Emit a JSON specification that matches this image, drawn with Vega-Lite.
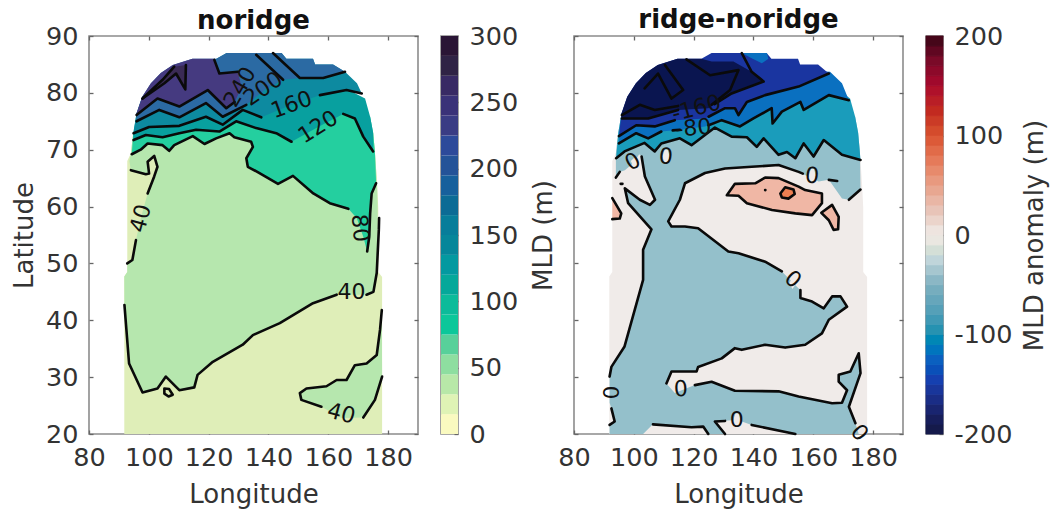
{"$schema":"https://vega.github.io/schema/vega-lite/v6.json","autosize":{"type":"none"},"padding":{"left":89,"top":36,"right":965,"bottom":78},"background":"white",
"config":{"view":{"stroke":"#8c8c8c","strokeWidth":1.6},"font":"DejaVu Sans","axis":{"grid":false,"domain":false,"tickColor":"#666666","tickSize":-4,"tickWidth":1.3,"labelFont":"DejaVu Sans","labelFontSize":25.5,"labelColor":"#333333","titleFont":"DejaVu Sans","titleFontSize":26,"titleFontWeight":"normal","titleColor":"#333333","labelOverlap":false,"labelFlush":false,"labelBound":false},"title":{"font":"DejaVu Sans","fontSize":26,"fontWeight":"bold","color":"#111111","anchor":"middle"}},
"datasets":{
"fillL":[
{"z":"a","v":0,"lon":91.8,"lat":20},{"z":"a","v":0,"lon":91.8,"lat":47.7},{"z":"a","v":0,"lon":92.8,"lat":48.5},{"z":"a","v":0,"lon":92.8,"lat":68},{"z":"a","v":0,"lon":94,"lat":69.4},{"z":"a","v":0,"lon":94.8,"lat":73},{"z":"a","v":0,"lon":175,"lat":73},{"z":"a","v":0,"lon":175.6,"lat":69.6},{"z":"a","v":0,"lon":176.3,"lat":64.1},{"z":"a","v":0,"lon":176.7,"lat":59.9},{"z":"a","v":0,"lon":176.7,"lat":48.5},{"z":"a","v":0,"lon":178,"lat":47.6},{"z":"a","v":0,"lon":178,"lat":20},
{"z":"b","v":40,"lon":91.85,"lat":42.7},{"z":"b","v":40,"lon":93.4,"lat":32.4},{"z":"b","v":40,"lon":97.9,"lat":27.3},{"z":"b","v":40,"lon":102.9,"lat":28},{"z":"b","v":40,"lon":105.7,"lat":30.1},{"z":"b","v":40,"lon":109.1,"lat":28.3},{"z":"b","v":40,"lon":110.2,"lat":27.7},{"z":"b","v":40,"lon":115.2,"lat":28.2},{"z":"b","v":40,"lon":116.3,"lat":30.4},{"z":"b","v":40,"lon":121.4,"lat":32.7},{"z":"b","v":40,"lon":131.4,"lat":35.7},{"z":"b","v":40,"lon":134.8,"lat":37.4},{"z":"b","v":40,"lon":143.8,"lat":39.5},{"z":"b","v":40,"lon":154.9,"lat":43},{"z":"b","v":40,"lon":162.8,"lat":44.5},{"z":"b","v":40,"lon":172.8,"lat":44.5},{"z":"b","v":40,"lon":175.1,"lat":45},{"z":"b","v":40,"lon":176.2,"lat":48.3},{"z":"b","v":40,"lon":176.5,"lat":55.9},{"z":"b","v":40,"lon":176.5,"lat":59.9},{"z":"b","v":40,"lon":176.3,"lat":64.1},{"z":"b","v":40,"lon":175.6,"lat":69.6},{"z":"b","v":40,"lon":175,"lat":73},{"z":"b","v":40,"lon":94.8,"lat":73},{"z":"b","v":40,"lon":94,"lat":69.4},{"z":"b","v":40,"lon":93.5,"lat":68},{"z":"b","v":40,"lon":94,"lat":66.4},{"z":"b","v":40,"lon":99,"lat":65.7},{"z":"b","v":40,"lon":100.1,"lat":65.8},{"z":"b","v":40,"lon":99.6,"lat":67.9},{"z":"b","v":40,"lon":101.8,"lat":68.9},{"z":"b","v":40,"lon":102.9,"lat":67},{"z":"b","v":40,"lon":101.8,"lat":65.3},{"z":"b","v":40,"lon":99.6,"lat":62.3},{"z":"b","v":40,"lon":97.3,"lat":57.9},{"z":"b","v":40,"lon":95.7,"lat":54.1},{"z":"b","v":40,"lon":94.5,"lat":50.6},{"z":"b","v":40,"lon":92.8,"lat":50},{"z":"b","v":40,"lon":92.8,"lat":48.5},{"z":"b","v":40,"lon":91.8,"lat":47.7},
{"z":"c","v":40,"lon":177.9,"lat":41.8},{"z":"c","v":40,"lon":177.3,"lat":38.3},{"z":"c","v":40,"lon":176.2,"lat":33.9},{"z":"c","v":40,"lon":172.8,"lat":32.4},{"z":"c","v":40,"lon":168.9,"lat":32.1},{"z":"c","v":40,"lon":166.1,"lat":29.5},{"z":"c","v":40,"lon":162.8,"lat":29.5},{"z":"c","v":40,"lon":159.4,"lat":28.4},{"z":"c","v":40,"lon":152.7,"lat":28},{"z":"c","v":40,"lon":150.5,"lat":27.2},{"z":"c","v":40,"lon":151,"lat":26},{"z":"c","v":40,"lon":157.7,"lat":24.8},{"z":"c","v":40,"lon":164.4,"lat":22.8},{"z":"c","v":40,"lon":171.7,"lat":22.9},{"z":"c","v":40,"lon":175.6,"lat":26},{"z":"c","v":40,"lon":178,"lat":30.1},
{"z":"d","v":80,"lon":94.3,"lat":69.2},{"z":"d","v":80,"lon":97.3,"lat":70},{"z":"d","v":80,"lon":99.6,"lat":71.1},{"z":"d","v":80,"lon":104.6,"lat":70.8},{"z":"d","v":80,"lon":106.8,"lat":69.8},{"z":"d","v":80,"lon":108.5,"lat":70.8},{"z":"d","v":80,"lon":114.7,"lat":72.4},{"z":"d","v":80,"lon":118.6,"lat":71},{"z":"d","v":80,"lon":122.5,"lat":72},{"z":"d","v":80,"lon":127,"lat":72.9},{"z":"d","v":80,"lon":128.6,"lat":72.2},{"z":"d","v":80,"lon":134.2,"lat":71.4},{"z":"d","v":80,"lon":134.8,"lat":70.5},{"z":"d","v":80,"lon":132.6,"lat":68.5},{"z":"d","v":80,"lon":133.1,"lat":67},{"z":"d","v":80,"lon":137,"lat":65.9},{"z":"d","v":80,"lon":143.2,"lat":64},{"z":"d","v":80,"lon":148.2,"lat":65.4},{"z":"d","v":80,"lon":155,"lat":62.3},{"z":"d","v":80,"lon":160.5,"lat":60.6},{"z":"d","v":80,"lon":166.7,"lat":59.6},{"z":"d","v":80,"lon":169.5,"lat":58},{"z":"d","v":80,"lon":171.7,"lat":54.7},{"z":"d","v":80,"lon":173,"lat":52.1},{"z":"d","v":80,"lon":173.7,"lat":54.7},{"z":"d","v":80,"lon":174,"lat":58.8},{"z":"d","v":80,"lon":174.5,"lat":62.3},{"z":"d","v":80,"lon":176,"lat":64.1},{"z":"d","v":80,"lon":175.6,"lat":69.6},{"z":"d","v":80,"lon":175,"lat":73},{"z":"d","v":80,"lon":174,"lat":75.8},{"z":"d","v":80,"lon":165,"lat":78},{"z":"d","v":80,"lon":130,"lat":78},{"z":"d","v":80,"lon":100,"lat":76},{"z":"d","v":80,"lon":94.8,"lat":73},
{"z":"e","v":120,"lon":94.9,"lat":71.7},{"z":"e","v":120,"lon":99,"lat":72.6},{"z":"e","v":120,"lon":104.6,"lat":72.2},{"z":"e","v":120,"lon":110.2,"lat":72.9},{"z":"e","v":120,"lon":115.8,"lat":73.5},{"z":"e","v":120,"lon":123.6,"lat":73.2},{"z":"e","v":120,"lon":129.2,"lat":75},{"z":"e","v":120,"lon":135.9,"lat":73.8},{"z":"e","v":120,"lon":142.6,"lat":72.9},{"z":"e","v":120,"lon":147.7,"lat":71.4},{"z":"e","v":120,"lon":156.6,"lat":74},{"z":"e","v":120,"lon":165,"lat":76.3},{"z":"e","v":120,"lon":168.9,"lat":75.5},{"z":"e","v":120,"lon":171.7,"lat":72.3},{"z":"e","v":120,"lon":175,"lat":69.7},{"z":"e","v":120,"lon":175,"lat":73},{"z":"e","v":120,"lon":174,"lat":75.8},{"z":"e","v":120,"lon":172.3,"lat":79},{"z":"e","v":120,"lon":165,"lat":81},{"z":"e","v":120,"lon":130,"lat":81},{"z":"e","v":120,"lon":100.7,"lat":78},{"z":"e","v":120,"lon":95.9,"lat":76.4},{"z":"e","v":120,"lon":94.8,"lat":73},
{"z":"f","v":160,"lon":94.9,"lat":72.9},{"z":"f","v":160,"lon":100.1,"lat":74},{"z":"f","v":160,"lon":110.2,"lat":74.2},{"z":"f","v":160,"lon":119.1,"lat":75.8},{"z":"f","v":160,"lon":124.7,"lat":74.4},{"z":"f","v":160,"lon":131.4,"lat":77},{"z":"f","v":160,"lon":137.6,"lat":75.7},{"z":"f","v":160,"lon":147.7,"lat":77.9},{"z":"f","v":160,"lon":157.2,"lat":79.6},{"z":"f","v":160,"lon":166.1,"lat":80.5},{"z":"f","v":160,"lon":171.2,"lat":79.9},{"z":"f","v":160,"lon":169.6,"lat":81.7},{"z":"f","v":160,"lon":165.6,"lat":83.7},{"z":"f","v":160,"lon":161.6,"lat":85},{"z":"f","v":160,"lon":155.6,"lat":85},{"z":"f","v":160,"lon":154.9,"lat":86},{"z":"f","v":160,"lon":146,"lat":86},{"z":"f","v":160,"lon":144.4,"lat":87},{"z":"f","v":160,"lon":126,"lat":87},{"z":"f","v":160,"lon":122.6,"lat":86},{"z":"f","v":160,"lon":104,"lat":83},{"z":"f","v":160,"lon":97.8,"lat":79.3},{"z":"f","v":160,"lon":95.9,"lat":76.4},
{"z":"g","v":200,"lon":95.9,"lat":75},{"z":"g","v":200,"lon":103.5,"lat":77},{"z":"g","v":200,"lon":110.2,"lat":75.7},{"z":"g","v":200,"lon":119.1,"lat":78.2},{"z":"g","v":200,"lon":124.7,"lat":75.8},{"z":"g","v":200,"lon":132.6,"lat":77.9},{"z":"g","v":200,"lon":138.7,"lat":80.5},{"z":"g","v":200,"lon":144.9,"lat":82.3},{"z":"g","v":200,"lon":150.5,"lat":82.6},{"z":"g","v":200,"lon":158.3,"lat":82.6},{"z":"g","v":200,"lon":165.6,"lat":83.7},{"z":"g","v":200,"lon":161.6,"lat":85},{"z":"g","v":200,"lon":155.6,"lat":85},{"z":"g","v":200,"lon":154.9,"lat":86},{"z":"g","v":200,"lon":146,"lat":86},{"z":"g","v":200,"lon":144.4,"lat":87},{"z":"g","v":200,"lon":126,"lat":87},{"z":"g","v":200,"lon":122.6,"lat":86},{"z":"g","v":200,"lon":114.6,"lat":86},{"z":"g","v":200,"lon":108,"lat":84.9},{"z":"g","v":200,"lon":104,"lat":83.5},{"z":"g","v":200,"lon":100.7,"lat":81.7},{"z":"g","v":200,"lon":97.8,"lat":79.3},{"z":"g","v":200,"lon":95.9,"lat":76.4},
{"z":"h","v":240,"lon":95.9,"lat":76.1},{"z":"h","v":240,"lon":102.9,"lat":79},{"z":"h","v":240,"lon":110.2,"lat":77.6},{"z":"h","v":240,"lon":119.7,"lat":80.5},{"z":"h","v":240,"lon":125.9,"lat":77.3},{"z":"h","v":240,"lon":128.7,"lat":78.4},{"z":"h","v":240,"lon":131,"lat":81},{"z":"h","v":240,"lon":129.8,"lat":83.7},{"z":"h","v":240,"lon":123.6,"lat":83.4},{"z":"h","v":240,"lon":121.9,"lat":85.8},{"z":"h","v":240,"lon":122,"lat":86},{"z":"h","v":240,"lon":114.6,"lat":86},{"z":"h","v":240,"lon":108,"lat":84.9},{"z":"h","v":240,"lon":104,"lat":83.5},{"z":"h","v":240,"lon":100.7,"lat":81.7},{"z":"h","v":240,"lon":97.8,"lat":79.3},{"z":"h","v":240,"lon":95.9,"lat":76.4},
{"z":"i","v":280,"lon":97.9,"lat":79},{"z":"i","v":280,"lon":104.6,"lat":82.3},{"z":"i","v":280,"lon":108.5,"lat":84.6},{"z":"i","v":280,"lon":112.4,"lat":84.9},{"z":"i","v":280,"lon":112.2,"lat":80.6},{"z":"i","v":280,"lon":109.1,"lat":83.4},{"z":"i","v":280,"lon":105.2,"lat":81.7}
],
"lineL":[
{"s":"a","lon":91.85,"lat":42.7},{"s":"a","lon":93.4,"lat":32.4},{"s":"a","lon":97.9,"lat":27.3},{"s":"a","lon":102.9,"lat":28},{"s":"a","lon":105.7,"lat":30.1},{"s":"a","lon":109.1,"lat":28.3},{"s":"a","lon":110.2,"lat":27.7},{"s":"a","lon":115.2,"lat":28.2},{"s":"a","lon":116.3,"lat":30.4},{"s":"a","lon":121.4,"lat":32.7},{"s":"a","lon":131.4,"lat":35.7},{"s":"a","lon":134.8,"lat":37.4},{"s":"a","lon":143.8,"lat":39.5},{"s":"a","lon":154.9,"lat":43},{"s":"a","lon":162.8,"lat":44.5},
{"s":"b","lon":172.8,"lat":44.5},{"s":"b","lon":175.1,"lat":45},{"s":"b","lon":176.2,"lat":48.3},{"s":"b","lon":176.9,"lat":55.9},{"s":"b","lon":177,"lat":58},
{"s":"c","lon":94,"lat":66.4},{"s":"c","lon":99,"lat":65.7},{"s":"c","lon":100.1,"lat":65.8},{"s":"c","lon":99.6,"lat":67.9},{"s":"c","lon":101.8,"lat":68.9},{"s":"c","lon":102.9,"lat":67},{"s":"c","lon":101.8,"lat":65.3},{"s":"c","lon":99.6,"lat":62.3},
{"s":"d","lon":95.7,"lat":54.1},{"s":"d","lon":94.5,"lat":50.6},{"s":"d","lon":92.8,"lat":50},
{"s":"e","lon":105.2,"lat":28},{"s":"e","lon":106.8,"lat":27.9},{"s":"e","lon":108,"lat":26.9},{"s":"e","lon":106.6,"lat":26.6},{"s":"e","lon":105.2,"lat":27.1},{"s":"e","lon":105.2,"lat":28},
{"s":"f","lon":177.9,"lat":41.8},{"s":"f","lon":177.3,"lat":38.3},{"s":"f","lon":176.2,"lat":33.9},{"s":"f","lon":172.8,"lat":32.4},{"s":"f","lon":168.9,"lat":32.1},{"s":"f","lon":166.1,"lat":29.5},{"s":"f","lon":162.8,"lat":29.5},{"s":"f","lon":159.4,"lat":28.4},{"s":"f","lon":152.7,"lat":28},{"s":"f","lon":150.5,"lat":27.2},{"s":"f","lon":151,"lat":26},{"s":"f","lon":157.7,"lat":24.8},
{"s":"g","lon":171.7,"lat":22.9},{"s":"g","lon":175.6,"lat":26},{"s":"g","lon":178,"lat":30.1},
{"s":"h","lon":94.3,"lat":69.2},{"s":"h","lon":97.3,"lat":70},{"s":"h","lon":99.6,"lat":71.1},{"s":"h","lon":104.6,"lat":70.8},{"s":"h","lon":106.8,"lat":69.8},{"s":"h","lon":108.5,"lat":70.8},{"s":"h","lon":114.7,"lat":72.4},{"s":"h","lon":118.6,"lat":71},{"s":"h","lon":122.5,"lat":72},{"s":"h","lon":127,"lat":72.9},{"s":"h","lon":128.6,"lat":72.2},{"s":"h","lon":134.2,"lat":71.4},{"s":"h","lon":134.8,"lat":70.5},{"s":"h","lon":132.6,"lat":68.5},{"s":"h","lon":133.1,"lat":67},{"s":"h","lon":137,"lat":65.9},{"s":"h","lon":143.2,"lat":64},{"s":"h","lon":148.2,"lat":65.4},{"s":"h","lon":155,"lat":62.3},{"s":"h","lon":160.5,"lat":60.6},{"s":"h","lon":166.7,"lat":59.6},
{"s":"i","lon":173,"lat":52.1},{"s":"i","lon":173.7,"lat":54.7},{"s":"i","lon":174,"lat":58.8},{"s":"i","lon":174.5,"lat":62.3},{"s":"i","lon":176,"lat":64.1},
{"s":"j","lon":94.9,"lat":71.7},{"s":"j","lon":99,"lat":72.6},{"s":"j","lon":104.6,"lat":72.2},{"s":"j","lon":110.2,"lat":72.9},{"s":"j","lon":115.8,"lat":73.5},{"s":"j","lon":123.6,"lat":73.2},{"s":"j","lon":129.2,"lat":75},{"s":"j","lon":135.9,"lat":73.8},{"s":"j","lon":142.6,"lat":72.9},{"s":"j","lon":147.7,"lat":71.4},
{"s":"k","lon":165,"lat":76.3},{"s":"k","lon":168.9,"lat":75.5},{"s":"k","lon":171.7,"lat":72.3},{"s":"k","lon":175,"lat":69.7},
{"s":"l","lon":94.9,"lat":72.9},{"s":"l","lon":100.1,"lat":74},{"s":"l","lon":110.2,"lat":74.2},{"s":"l","lon":119.1,"lat":75.8},{"s":"l","lon":124.7,"lat":74.4},{"s":"l","lon":131.4,"lat":77},{"s":"l","lon":137.6,"lat":75.7},
{"s":"m","lon":157.2,"lat":79.6},{"s":"m","lon":166.1,"lat":80.5},{"s":"m","lon":171.2,"lat":79.9},
{"s":"n","lon":95.9,"lat":75},{"s":"n","lon":103.5,"lat":77},{"s":"n","lon":110.2,"lat":75.7},{"s":"n","lon":119.1,"lat":78.2},{"s":"n","lon":124.7,"lat":75.8},{"s":"n","lon":132.6,"lat":77.9},
{"s":"o","lon":144.9,"lat":82.3},{"s":"o","lon":135.9,"lat":86.7},
{"s":"p","lon":141.5,"lat":87},{"s":"p","lon":150.5,"lat":82.6},{"s":"p","lon":158.3,"lat":82.6},{"s":"p","lon":165.6,"lat":83.7},
{"s":"q","lon":95.9,"lat":76.1},{"s":"q","lon":102.9,"lat":79},{"s":"q","lon":110.2,"lat":77.6},{"s":"q","lon":119.7,"lat":80.5},{"s":"q","lon":125.9,"lat":77.3},{"s":"q","lon":128.7,"lat":78.4},
{"s":"r","lon":129.8,"lat":83.7},{"s":"r","lon":123.6,"lat":83.4},{"s":"r","lon":121.9,"lat":85.8},
{"s":"t","lon":97.9,"lat":79},{"s":"t","lon":104.6,"lat":82.3},{"s":"t","lon":108.5,"lat":84.6},
{"s":"u","lon":112.4,"lat":84.9},{"s":"u","lon":112.2,"lat":80.6},{"s":"u","lon":109.1,"lat":83.4},{"s":"u","lon":105.2,"lat":81.7},{"s":"u","lon":97.9,"lat":79}
],
"textL":[
{"label":"40","lon":167.8,"lat":44.9,"rot":0},{"label":"40","lon":164.4,"lat":23.6,"rot":15},{"label":"40","lon":97.3,"lat":57.9,"rot":-75},{"label":"120","lon":156.6,"lat":74,"rot":-32},{"label":"160","lon":147.7,"lat":77.9,"rot":-20},{"label":"200","lon":138.2,"lat":80.7,"rot":-35},{"label":"240","lon":130.5,"lat":81,"rot":-60},{"label":"80","lon":170.6,"lat":56.2,"rot":85}
],
"fillR":[
{"z":"a","v":0,"lon":91.8,"lat":20},{"z":"a","v":0,"lon":91.8,"lat":47.7},{"z":"a","v":0,"lon":92.8,"lat":48.5},{"z":"a","v":0,"lon":92.8,"lat":68},{"z":"a","v":0,"lon":94,"lat":69.4},{"z":"a","v":0,"lon":94.8,"lat":73},{"z":"a","v":0,"lon":175,"lat":73},{"z":"a","v":0,"lon":175.6,"lat":69.6},{"z":"a","v":0,"lon":176.3,"lat":64.1},{"z":"a","v":0,"lon":176.7,"lat":59.9},{"z":"a","v":0,"lon":176.7,"lat":48.5},{"z":"a","v":0,"lon":178,"lat":47.6},{"z":"a","v":0,"lon":178,"lat":20},
{"z":"b","v":-40,"lon":91.9,"lat":20},{"z":"b","v":-40,"lon":91.9,"lat":21.6},{"z":"b","v":-40,"lon":93.6,"lat":22.2},{"z":"b","v":-40,"lon":92.5,"lat":24.5},{"z":"b","v":-40,"lon":91.9,"lat":25.5},{"z":"b","v":-40,"lon":91.9,"lat":30.1},{"z":"b","v":-40,"lon":92.5,"lat":31.8},{"z":"b","v":-40,"lon":96.9,"lat":35.4},{"z":"b","v":-40,"lon":103.1,"lat":47.1},{"z":"b","v":-40,"lon":103.1,"lat":50},{"z":"b","v":-40,"lon":103.1,"lat":52.4},{"z":"b","v":-40,"lon":105.9,"lat":56},{"z":"b","v":-40,"lon":98.1,"lat":60.6},{"z":"b","v":-40,"lon":97,"lat":63.2},{"z":"b","v":-40,"lon":102,"lat":61.2},{"z":"b","v":-40,"lon":105.4,"lat":60.3},{"z":"b","v":-40,"lon":107.1,"lat":61.2},{"z":"b","v":-40,"lon":103.7,"lat":65.3},{"z":"b","v":-40,"lon":102.6,"lat":68.8},{"z":"b","v":-40,"lon":101.8,"lat":69.2},{"z":"b","v":-40,"lon":99.8,"lat":67.6},{"z":"b","v":-40,"lon":97,"lat":66.4},{"z":"b","v":-40,"lon":95.3,"lat":66.1},{"z":"b","v":-40,"lon":94,"lat":65.1},{"z":"b","v":-40,"lon":94,"lat":69.4},{"z":"b","v":-40,"lon":94.8,"lat":73},{"z":"b","v":-40,"lon":95.9,"lat":76.4},{"z":"b","v":-40,"lon":174,"lat":75.8},{"z":"b","v":-40,"lon":175,"lat":73},{"z":"b","v":-40,"lon":175.6,"lat":69.6},{"z":"b","v":-40,"lon":175.8,"lat":63},{"z":"b","v":-40,"lon":171.9,"lat":61.2},{"z":"b","v":-40,"lon":169.6,"lat":61.4},{"z":"b","v":-40,"lon":165.2,"lat":64.7},{"z":"b","v":-40,"lon":161.8,"lat":64.4},{"z":"b","v":-40,"lon":155.1,"lat":66.1},{"z":"b","v":-40,"lon":148.4,"lat":67.3},{"z":"b","v":-40,"lon":139.4,"lat":67},{"z":"b","v":-40,"lon":130.5,"lat":66.7},{"z":"b","v":-40,"lon":123.8,"lat":65.9},{"z":"b","v":-40,"lon":117.1,"lat":64.1},{"z":"b","v":-40,"lon":115.4,"lat":61.2},{"z":"b","v":-40,"lon":111.5,"lat":57.4},{"z":"b","v":-40,"lon":112.6,"lat":56.5},{"z":"b","v":-40,"lon":117.1,"lat":56.5},{"z":"b","v":-40,"lon":121.5,"lat":56.2},{"z":"b","v":-40,"lon":131.6,"lat":52.1},{"z":"b","v":-40,"lon":135,"lat":51.8},{"z":"b","v":-40,"lon":143.9,"lat":50.3},{"z":"b","v":-40,"lon":149.5,"lat":48.6},{"z":"b","v":-40,"lon":155.7,"lat":45.3},{"z":"b","v":-40,"lon":155.7,"lat":43.9},{"z":"b","v":-40,"lon":159.6,"lat":43.3},{"z":"b","v":-40,"lon":163.5,"lat":42.1},{"z":"b","v":-40,"lon":166.3,"lat":44.2},{"z":"b","v":-40,"lon":169.1,"lat":44.2},{"z":"b","v":-40,"lon":171.3,"lat":42.4},{"z":"b","v":-40,"lon":165.2,"lat":40.1},{"z":"b","v":-40,"lon":162.9,"lat":37.7},{"z":"b","v":-40,"lon":157.3,"lat":35.7},{"z":"b","v":-40,"lon":150.6,"lat":35.2},{"z":"b","v":-40,"lon":143.9,"lat":35.7},{"z":"b","v":-40,"lon":136.1,"lat":34.8},{"z":"b","v":-40,"lon":133.8,"lat":35.1},{"z":"b","v":-40,"lon":129.4,"lat":33.3},{"z":"b","v":-40,"lon":121.5,"lat":31.8},{"z":"b","v":-40,"lon":121,"lat":31},{"z":"b","v":-40,"lon":112.6,"lat":31},{"z":"b","v":-40,"lon":110.9,"lat":28.9},{"z":"b","v":-40,"lon":113.7,"lat":27.2},{"z":"b","v":-40,"lon":120.4,"lat":28.6},{"z":"b","v":-40,"lon":126,"lat":29.2},{"z":"b","v":-40,"lon":133.8,"lat":27.6},{"z":"b","v":-40,"lon":148.4,"lat":27.5},{"z":"b","v":-40,"lon":155.1,"lat":26.6},{"z":"b","v":-40,"lon":166.3,"lat":25.4},{"z":"b","v":-40,"lon":169.6,"lat":25.5},{"z":"b","v":-40,"lon":171.3,"lat":27.7},{"z":"b","v":-40,"lon":168.5,"lat":29.2},{"z":"b","v":-40,"lon":168.5,"lat":30.4},{"z":"b","v":-40,"lon":172.4,"lat":31},{"z":"b","v":-40,"lon":175.2,"lat":34.2},{"z":"b","v":-40,"lon":175.8,"lat":30.7},{"z":"b","v":-40,"lon":171.9,"lat":24.8},{"z":"b","v":-40,"lon":174.1,"lat":21.9},{"z":"b","v":-40,"lon":175.2,"lat":20},{"z":"b","v":-40,"lon":154,"lat":20},{"z":"b","v":-40,"lon":139.4,"lat":21.6},{"z":"b","v":-40,"lon":136.1,"lat":22.2},{"z":"b","v":-40,"lon":132.7,"lat":22.4},{"z":"b","v":-40,"lon":127.1,"lat":22.2},{"z":"b","v":-40,"lon":130.5,"lat":20},{"z":"b","v":-40,"lon":124.9,"lat":20},{"z":"b","v":-40,"lon":123.2,"lat":21.3},{"z":"b","v":-40,"lon":119.3,"lat":21.2},{"z":"b","v":-40,"lon":106.4,"lat":21.7},{"z":"b","v":-40,"lon":103.1,"lat":20},
{"z":"w1","v":0,"lon":109.5,"lat":68.8},{"z":"w1","v":0,"lon":110.3,"lat":70},{"z":"w1","v":0,"lon":111.3,"lat":70},{"z":"w1","v":0,"lon":112,"lat":68.8},{"z":"w1","v":0,"lon":111.3,"lat":67.6},{"z":"w1","v":0,"lon":110.3,"lat":67.6},
{"z":"w2","v":0,"lon":158.4,"lat":65.4},{"z":"w2","v":0,"lon":159.2,"lat":66.6},{"z":"w2","v":0,"lon":160.2,"lat":66.6},{"z":"w2","v":0,"lon":160.9,"lat":65.4},{"z":"w2","v":0,"lon":160.2,"lat":64.2},{"z":"w2","v":0,"lon":159.2,"lat":64.2},
{"z":"w3","v":0,"lon":133.2,"lat":22.4},{"z":"w3","v":0,"lon":134,"lat":23.6},{"z":"w3","v":0,"lon":135,"lat":23.6},{"z":"w3","v":0,"lon":135.7,"lat":22.4},{"z":"w3","v":0,"lon":135,"lat":21.2},{"z":"w3","v":0,"lon":134,"lat":21.2},
{"z":"w4","v":0,"lon":152,"lat":46.6},{"z":"w4","v":0,"lon":153.6,"lat":47.8},{"z":"w4","v":0,"lon":155,"lat":47.8},{"z":"w4","v":0,"lon":154.6,"lat":46.6},{"z":"w4","v":0,"lon":153,"lat":45.5},
{"z":"w5","v":0,"lon":99,"lat":68},{"z":"w5","v":0,"lon":100.6,"lat":68.8},{"z":"w5","v":0,"lon":102,"lat":67},{"z":"w5","v":0,"lon":100.6,"lat":66.3},
{"z":"p1","v":40,"lon":131.1,"lat":62},{"z":"p1","v":40,"lon":133.8,"lat":64},{"z":"p1","v":40,"lon":140.6,"lat":64.1},{"z":"p1","v":40,"lon":143.9,"lat":65.1},{"z":"p1","v":40,"lon":148.4,"lat":65},{"z":"p1","v":40,"lon":155.1,"lat":63.5},{"z":"p1","v":40,"lon":157.3,"lat":62.9},{"z":"p1","v":40,"lon":162.9,"lat":62.3},{"z":"p1","v":40,"lon":162.9,"lat":60.6},{"z":"p1","v":40,"lon":159.6,"lat":58.5},{"z":"p1","v":40,"lon":154,"lat":58.8},{"z":"p1","v":40,"lon":146.2,"lat":59.4},{"z":"p1","v":40,"lon":137.8,"lat":60.6},{"z":"p1","v":40,"lon":135,"lat":61.9},
{"z":"p2","v":80,"lon":149,"lat":62.3},{"z":"p2","v":80,"lon":150.6,"lat":63.4},{"z":"p2","v":80,"lon":153.4,"lat":63},{"z":"p2","v":80,"lon":153.8,"lat":62.2},{"z":"p2","v":80,"lon":151.7,"lat":61.4},{"z":"p2","v":80,"lon":149.5,"lat":61.6},
{"z":"p3","v":40,"lon":162.7,"lat":58.9},{"z":"p3","v":40,"lon":166.3,"lat":60.3},{"z":"p3","v":40,"lon":168.5,"lat":58.2},{"z":"p3","v":40,"lon":168.3,"lat":56},{"z":"p3","v":40,"lon":166.8,"lat":55.9},{"z":"p3","v":40,"lon":165.2,"lat":57.6},
{"z":"p4","v":40,"lon":92.8,"lat":61.5},{"z":"p4","v":40,"lon":95.8,"lat":58.8},{"z":"p4","v":40,"lon":95.3,"lat":57.9},{"z":"p4","v":40,"lon":92.8,"lat":57.8},
{"z":"c","v":-80,"lon":94.1,"lat":68.5},{"z":"c","v":-80,"lon":96.9,"lat":69.7},{"z":"c","v":-80,"lon":103.6,"lat":71.2},{"z":"c","v":-80,"lon":107,"lat":69.7},{"z":"c","v":-80,"lon":109.2,"lat":71.1},{"z":"c","v":-80,"lon":115.4,"lat":72},{"z":"c","v":-80,"lon":119.3,"lat":70.8},{"z":"c","v":-80,"lon":123.8,"lat":72.6},{"z":"c","v":-80,"lon":127.1,"lat":73.9},{"z":"c","v":-80,"lon":132.7,"lat":72.3},{"z":"c","v":-80,"lon":137.8,"lat":72.2},{"z":"c","v":-80,"lon":141.1,"lat":70.5},{"z":"c","v":-80,"lon":143.4,"lat":72},{"z":"c","v":-80,"lon":148.4,"lat":69.1},{"z":"c","v":-80,"lon":151.2,"lat":69.6},{"z":"c","v":-80,"lon":154,"lat":68.5},{"z":"c","v":-80,"lon":156.8,"lat":71.1},{"z":"c","v":-80,"lon":160.1,"lat":68.8},{"z":"c","v":-80,"lon":163.5,"lat":71.7},{"z":"c","v":-80,"lon":169.6,"lat":69.1},{"z":"c","v":-80,"lon":175.8,"lat":68.2},{"z":"c","v":-80,"lon":175,"lat":73},{"z":"c","v":-80,"lon":174,"lat":75.8},{"z":"c","v":-80,"lon":172.3,"lat":79},{"z":"c","v":-80,"lon":165,"lat":82},{"z":"c","v":-80,"lon":130,"lat":82},{"z":"c","v":-80,"lon":100.7,"lat":78},{"z":"c","v":-80,"lon":95.9,"lat":76.4},{"z":"c","v":-80,"lon":94.8,"lat":73},
{"z":"d","v":-120,"lon":95,"lat":71.1},{"z":"d","v":-120,"lon":100.8,"lat":72.9},{"z":"d","v":-120,"lon":104.8,"lat":72},{"z":"d","v":-120,"lon":109.2,"lat":73.2},{"z":"d","v":-120,"lon":115.4,"lat":73.5},{"z":"d","v":-120,"lon":123.8,"lat":74.1},{"z":"d","v":-120,"lon":129.4,"lat":75.2},{"z":"d","v":-120,"lon":135.5,"lat":74.1},{"z":"d","v":-120,"lon":140,"lat":75.5},{"z":"d","v":-120,"lon":146.1,"lat":77.3},{"z":"d","v":-120,"lon":146.4,"lat":74.6},{"z":"d","v":-120,"lon":149.5,"lat":76.7},{"z":"d","v":-120,"lon":155.7,"lat":78.4},{"z":"d","v":-120,"lon":156.8,"lat":77},{"z":"d","v":-120,"lon":165.2,"lat":79.6},{"z":"d","v":-120,"lon":171.9,"lat":78.7},{"z":"d","v":-120,"lon":169.6,"lat":81.7},{"z":"d","v":-120,"lon":165.6,"lat":83.7},{"z":"d","v":-120,"lon":155,"lat":84},{"z":"d","v":-120,"lon":130,"lat":83},{"z":"d","v":-120,"lon":100.7,"lat":78},{"z":"d","v":-120,"lon":95.9,"lat":76.4},
{"z":"e","v":-160,"lon":95,"lat":72.4},{"z":"e","v":-160,"lon":100.8,"lat":74.3},{"z":"e","v":-160,"lon":107,"lat":74.1},{"z":"e","v":-160,"lon":113.7,"lat":75.2},{"z":"e","v":-160,"lon":123.8,"lat":75.5},{"z":"e","v":-160,"lon":130.5,"lat":77.3},{"z":"e","v":-160,"lon":133.8,"lat":77.3},{"z":"e","v":-160,"lon":135,"lat":76.1},{"z":"e","v":-160,"lon":137.8,"lat":78.4},{"z":"e","v":-160,"lon":143.9,"lat":79.6},{"z":"e","v":-160,"lon":155.1,"lat":81.1},{"z":"e","v":-160,"lon":165.2,"lat":83.4},{"z":"e","v":-160,"lon":161.6,"lat":85},{"z":"e","v":-160,"lon":155.6,"lat":85},{"z":"e","v":-160,"lon":154.9,"lat":86},{"z":"e","v":-160,"lon":146,"lat":86},{"z":"e","v":-160,"lon":144.4,"lat":87},{"z":"e","v":-160,"lon":126,"lat":87},{"z":"e","v":-160,"lon":122.6,"lat":86},{"z":"e","v":-160,"lon":114.6,"lat":86},{"z":"e","v":-160,"lon":108,"lat":84.9},{"z":"e","v":-160,"lon":104,"lat":83.5},{"z":"e","v":-160,"lon":100.7,"lat":81.7},{"z":"e","v":-160,"lon":97.8,"lat":79.3},{"z":"e","v":-160,"lon":95.9,"lat":76.4},
{"z":"f","v":-120,"lon":136.1,"lat":87},{"z":"f","v":-120,"lon":144.5,"lat":87},{"z":"f","v":-120,"lon":145,"lat":86},{"z":"f","v":-120,"lon":142.8,"lat":85.2},{"z":"f","v":-120,"lon":139.4,"lat":86.1},
{"z":"g","v":-200,"lon":96,"lat":75.5},{"z":"g","v":-200,"lon":104.8,"lat":75.5},{"z":"g","v":-200,"lon":114.8,"lat":77},{"z":"g","v":-200,"lon":124.9,"lat":77.3},{"z":"g","v":-200,"lon":132.7,"lat":79.9},{"z":"g","v":-200,"lon":143.4,"lat":82},{"z":"g","v":-200,"lon":139.4,"lat":83.7},{"z":"g","v":-200,"lon":133.3,"lat":85.5},{"z":"g","v":-200,"lon":126,"lat":85.5},{"z":"g","v":-200,"lon":123.2,"lat":85.9},{"z":"g","v":-200,"lon":122.6,"lat":86},{"z":"g","v":-200,"lon":114.6,"lat":86},{"z":"g","v":-200,"lon":108,"lat":84.9},{"z":"g","v":-200,"lon":104,"lat":83.5},{"z":"g","v":-200,"lon":100.7,"lat":81.7},{"z":"g","v":-200,"lon":97.8,"lat":79.3},{"z":"g","v":-200,"lon":95.9,"lat":76.4}
],
"lineR":[
{"s":"a","lon":91.9,"lat":21.6},{"s":"a","lon":93.6,"lat":22.2},{"s":"a","lon":92.5,"lat":24.5},
{"s":"b","lon":91.9,"lat":30.1},{"s":"b","lon":92.5,"lat":31.8},{"s":"b","lon":96.9,"lat":35.4},{"s":"b","lon":103.1,"lat":47.1},{"s":"b","lon":103.1,"lat":50},{"s":"b","lon":103.1,"lat":52.4},{"s":"b","lon":105.9,"lat":56},{"s":"b","lon":98.1,"lat":60.6},{"s":"b","lon":97,"lat":63.2},{"s":"b","lon":102,"lat":61.2},{"s":"b","lon":105.4,"lat":60.3},{"s":"b","lon":107.1,"lat":61.2},{"s":"b","lon":103.7,"lat":65.3},{"s":"b","lon":102.6,"lat":68.8},
{"s":"c","lon":94,"lat":65.1},{"s":"c","lon":95.3,"lat":66.1},
{"s":"d","lon":175.8,"lat":63},{"s":"d","lon":171.9,"lat":61.2},
{"s":"e","lon":168,"lat":64.5},{"s":"e","lon":165.2,"lat":64.7},
{"s":"f","lon":156.5,"lat":65.8},{"s":"f","lon":155.1,"lat":66.1},{"s":"f","lon":148.4,"lat":67.3},{"s":"f","lon":139.4,"lat":67},{"s":"f","lon":130.5,"lat":66.7},{"s":"f","lon":123.8,"lat":65.9},{"s":"f","lon":117.1,"lat":64.1},{"s":"f","lon":115.4,"lat":61.2},{"s":"f","lon":111.5,"lat":57.4},{"s":"f","lon":112.6,"lat":56.5},{"s":"f","lon":117.1,"lat":56.5},{"s":"f","lon":121.5,"lat":56.2},{"s":"f","lon":131.6,"lat":52.1},{"s":"f","lon":135,"lat":51.8},{"s":"f","lon":143.9,"lat":50.3},{"s":"f","lon":149.5,"lat":48.6},
{"s":"g","lon":155.7,"lat":45.3},{"s":"g","lon":155.7,"lat":43.9},{"s":"g","lon":159.6,"lat":43.3},{"s":"g","lon":163.5,"lat":42.1},{"s":"g","lon":166.3,"lat":44.2},{"s":"g","lon":169.1,"lat":44.2},{"s":"g","lon":171.3,"lat":42.4},{"s":"g","lon":165.2,"lat":40.1},{"s":"g","lon":162.9,"lat":37.7},{"s":"g","lon":157.3,"lat":35.7},{"s":"g","lon":150.6,"lat":35.2},{"s":"g","lon":143.9,"lat":35.7},{"s":"g","lon":136.1,"lat":34.8},{"s":"g","lon":133.8,"lat":35.1},{"s":"g","lon":129.4,"lat":33.3},{"s":"g","lon":121.5,"lat":31.8},{"s":"g","lon":121,"lat":31},{"s":"g","lon":112.6,"lat":31},{"s":"g","lon":110.9,"lat":28.9},
{"s":"h","lon":120.4,"lat":28.6},{"s":"h","lon":126,"lat":29.2},{"s":"h","lon":133.8,"lat":27.6},{"s":"h","lon":148.4,"lat":27.5},{"s":"h","lon":155.1,"lat":26.6},{"s":"h","lon":166.3,"lat":25.4},{"s":"h","lon":169.6,"lat":25.5},{"s":"h","lon":171.3,"lat":27.7},{"s":"h","lon":168.5,"lat":29.2},{"s":"h","lon":168.5,"lat":30.4},{"s":"h","lon":172.4,"lat":31},{"s":"h","lon":175.2,"lat":34.2},{"s":"h","lon":175.8,"lat":30.7},{"s":"h","lon":171.9,"lat":24.8},{"s":"h","lon":174.1,"lat":21.9},
{"s":"i","lon":154,"lat":20},{"s":"i","lon":139.4,"lat":21.6},
{"s":"j","lon":130.5,"lat":20},{"s":"j","lon":127.1,"lat":22.2},{"s":"j","lon":130.5,"lat":22.3},
{"s":"k","lon":124.9,"lat":20},{"s":"k","lon":123.2,"lat":21.3},{"s":"k","lon":119.3,"lat":21.2},{"s":"k","lon":106.4,"lat":21.7},
{"s":"l","lon":131.1,"lat":62},{"s":"l","lon":133.8,"lat":64},{"s":"l","lon":140.6,"lat":64.1},{"s":"l","lon":143.9,"lat":65.1},{"s":"l","lon":148.4,"lat":65},{"s":"l","lon":155.1,"lat":63.5},{"s":"l","lon":157.3,"lat":62.9},{"s":"l","lon":162.9,"lat":62.3},{"s":"l","lon":162.9,"lat":60.6},{"s":"l","lon":159.6,"lat":58.5},{"s":"l","lon":154,"lat":58.8},{"s":"l","lon":146.2,"lat":59.4},{"s":"l","lon":137.8,"lat":60.6},{"s":"l","lon":135,"lat":61.9},{"s":"l","lon":131.1,"lat":62},
{"s":"m","lon":149,"lat":62.3},{"s":"m","lon":150.6,"lat":63.4},{"s":"m","lon":153.4,"lat":63},{"s":"m","lon":153.8,"lat":62.2},{"s":"m","lon":151.7,"lat":61.4},{"s":"m","lon":149.5,"lat":61.6},{"s":"m","lon":149,"lat":62.3},
{"s":"n","lon":162.7,"lat":58.9},{"s":"n","lon":166.3,"lat":60.3},{"s":"n","lon":168.5,"lat":58.2},{"s":"n","lon":168.3,"lat":56},{"s":"n","lon":166.8,"lat":55.9},{"s":"n","lon":165.2,"lat":57.6},{"s":"n","lon":162.7,"lat":58.9},
{"s":"o","lon":92.8,"lat":61.5},{"s":"o","lon":95.8,"lat":58.8},{"s":"o","lon":95.3,"lat":57.9},{"s":"o","lon":92.8,"lat":57.8},
{"s":"q","lon":94.1,"lat":68.5},{"s":"q","lon":96.9,"lat":69.7},{"s":"q","lon":103.6,"lat":71.2},{"s":"q","lon":107,"lat":69.7},{"s":"q","lon":109.2,"lat":71.1},{"s":"q","lon":115.4,"lat":72},{"s":"q","lon":119.3,"lat":70.8},{"s":"q","lon":123.8,"lat":72.6},{"s":"q","lon":127.1,"lat":73.9},{"s":"q","lon":132.7,"lat":72.3},{"s":"q","lon":137.8,"lat":72.2},{"s":"q","lon":141.1,"lat":70.5},{"s":"q","lon":143.4,"lat":72},{"s":"q","lon":148.4,"lat":69.1},{"s":"q","lon":151.2,"lat":69.6},{"s":"q","lon":154,"lat":68.5},{"s":"q","lon":156.8,"lat":71.1},{"s":"q","lon":160.1,"lat":68.8},{"s":"q","lon":163.5,"lat":71.7},{"s":"q","lon":169.6,"lat":69.1},{"s":"q","lon":175.8,"lat":68.2},
{"s":"r","lon":95,"lat":71.1},{"s":"r","lon":100.8,"lat":72.9},{"s":"r","lon":104.8,"lat":72},{"s":"r","lon":109.2,"lat":73.2},
{"s":"r2","lon":113,"lat":73.4},{"s":"r2","lon":115.4,"lat":73.5},
{"s":"r3","lon":125,"lat":74.3},{"s":"r3","lon":129.4,"lat":75.2},{"s":"r3","lon":135.5,"lat":74.1},{"s":"r3","lon":140,"lat":75.5},{"s":"r3","lon":146.1,"lat":77.3},{"s":"r3","lon":146.4,"lat":74.6},{"s":"r3","lon":149.5,"lat":76.7},{"s":"r3","lon":155.7,"lat":78.4},{"s":"r3","lon":156.8,"lat":77},{"s":"r3","lon":165.2,"lat":79.6},{"s":"r3","lon":171.9,"lat":78.7},
{"s":"t","lon":95,"lat":72.4},{"s":"t","lon":100.8,"lat":74.3},{"s":"t","lon":107,"lat":74.1},{"s":"t","lon":113.7,"lat":75.2},
{"s":"t2","lon":125,"lat":75.8},{"s":"t2","lon":130.5,"lat":77.3},{"s":"t2","lon":133.8,"lat":77.3},{"s":"t2","lon":135,"lat":76.1},{"s":"t2","lon":137.8,"lat":78.4},{"s":"t2","lon":143.9,"lat":79.6},{"s":"t2","lon":155.1,"lat":81.1},{"s":"t2","lon":165.2,"lat":83.4},
{"s":"u","lon":96,"lat":75.5},{"s":"u","lon":104.8,"lat":75.5},{"s":"u","lon":114.8,"lat":77},
{"s":"u2","lon":127,"lat":78},{"s":"u2","lon":132.7,"lat":79.9},{"s":"u2","lon":143.4,"lat":82},{"s":"u2","lon":139.4,"lat":83.7},{"s":"u2","lon":136.1,"lat":87},
{"s":"v","lon":96,"lat":76.1},{"s":"v","lon":102,"lat":77.9},{"s":"v","lon":107,"lat":77},{"s":"v","lon":114.8,"lat":77.7},
{"s":"w","lon":103.6,"lat":80.8},{"s":"w","lon":108.1,"lat":83.4},{"s":"w","lon":112.6,"lat":79},{"s":"w","lon":116.5,"lat":80.5},{"s":"w","lon":110.4,"lat":84.9},
{"s":"x","lon":117.6,"lat":85.9},{"s":"x","lon":125.5,"lat":83.1},{"s":"x","lon":135,"lat":84},{"s":"x","lon":132.2,"lat":80.5},{"s":"x","lon":126,"lat":77.9},
{"s":"y","lon":95.6,"lat":64},{"s":"y","lon":96.2,"lat":64},
{"s":"y2","lon":143.9,"lat":62.9},{"s":"y2","lon":144,"lat":62.9}
],
"textR":[
{"label":"0","lon":110.7,"lat":68.8,"rot":5},{"label":"0","lon":159.6,"lat":65.4,"rot":5},{"label":"0","lon":99.7,"lat":67.9,"rot":-30},{"label":"0","lon":153.2,"lat":47.2,"rot":40},{"label":"0","lon":115.7,"lat":27.9,"rot":-3},{"label":"0","lon":134.4,"lat":22.4,"rot":0},{"label":"0","lon":91.9,"lat":27.3,"rot":90},{"label":"0","lon":175.4,"lat":20.2,"rot":50},
{"label":"-160","lon":120.9,"lat":77.3,"rot":-15},{"label":"-80","lon":119.9,"lat":73.8,"rot":-5}
],
"barL":[
{"lo":0,"hi":15},{"lo":15,"hi":30},{"lo":30,"hi":45},{"lo":45,"hi":60},{"lo":60,"hi":75},{"lo":75,"hi":90},{"lo":90,"hi":105},{"lo":105,"hi":120},{"lo":120,"hi":135},{"lo":135,"hi":150},{"lo":150,"hi":165},{"lo":165,"hi":180},{"lo":180,"hi":195},{"lo":195,"hi":210},{"lo":210,"hi":225},{"lo":225,"hi":240},{"lo":240,"hi":255},{"lo":255,"hi":270},{"lo":270,"hi":285},{"lo":285,"hi":300}
],
"barR":[
{"lo":-200,"hi":-190,"mid":-195},{"lo":-190,"hi":-180,"mid":-185},{"lo":-180,"hi":-170,"mid":-175},{"lo":-170,"hi":-160,"mid":-165},{"lo":-160,"hi":-150,"mid":-155},{"lo":-150,"hi":-140,"mid":-145},{"lo":-140,"hi":-130,"mid":-135},{"lo":-130,"hi":-120,"mid":-125},{"lo":-120,"hi":-110,"mid":-115},{"lo":-110,"hi":-100,"mid":-105},{"lo":-100,"hi":-90,"mid":-95},{"lo":-90,"hi":-80,"mid":-85},{"lo":-80,"hi":-70,"mid":-75},{"lo":-70,"hi":-60,"mid":-65},{"lo":-60,"hi":-50,"mid":-55},{"lo":-50,"hi":-40,"mid":-45},{"lo":-40,"hi":-30,"mid":-35},{"lo":-30,"hi":-20,"mid":-25},{"lo":-20,"hi":-10,"mid":-15},{"lo":-10,"hi":0,"mid":-5},{"lo":0,"hi":10,"mid":5},{"lo":10,"hi":20,"mid":15},{"lo":20,"hi":30,"mid":25},{"lo":30,"hi":40,"mid":35},{"lo":40,"hi":50,"mid":45},{"lo":50,"hi":60,"mid":55},{"lo":60,"hi":70,"mid":65},{"lo":70,"hi":80,"mid":75},{"lo":80,"hi":90,"mid":85},{"lo":90,"hi":100,"mid":95},{"lo":100,"hi":110,"mid":105},{"lo":110,"hi":120,"mid":115},{"lo":120,"hi":130,"mid":125},{"lo":130,"hi":140,"mid":135},{"lo":140,"hi":150,"mid":145},{"lo":150,"hi":160,"mid":155},{"lo":160,"hi":170,"mid":165},{"lo":170,"hi":180,"mid":175},{"lo":180,"hi":190,"mid":185},{"lo":190,"hi":200,"mid":195}
],
"none":[]
},
"spacing":0,"bounds":"flush",
"hconcat":[
{"width":329,"height":398,"title":{"text":"noridge","offset":-10},"resolve":{"axis":{"x":"independent","y":"independent"}},"layer":[
{"data":{"name":"fillL"},"mark":{"type":"line","filled":true,"interpolate":"linear"},"encoding":{"x":{"field":"lon","type":"quantitative","scale":{"domain":[80,190],"nice":false,"zero":false},"axis":{"values":[80,100,120,140,160,180],"title":"Longitude","labelPadding":15,"titlePadding":11}},"y":{"field":"lat","type":"quantitative","scale":{"domain":[20,90],"nice":false,"zero":false},"axis":{"values":[20,30,40,50,60,70,80,90],"title":"Latitude","labelPadding":15,"titlePadding":8}},"color":{"field":"v","type":"nominal","legend":null,"scale":{"domain":[0,40,80,120,160,200,240,280],"range":["#dfeeb8","#b6e7ae","#24cf9f","#08a09f","#0d8aa0","#2b6aa3","#453a80","#3a2a55"]}},"detail":{"field":"z"},"order":{"value":null}}},
{"data":{"name":"lineL"},"mark":{"type":"line","stroke":"#0a0a0a","strokeWidth":2.6,"strokeJoin":"round","strokeCap":"round"},"encoding":{"x":{"field":"lon","type":"quantitative","axis":{"orient":"top","values":[80,100,120,140,160,180],"labels":false,"title":null}},"y":{"field":"lat","type":"quantitative","axis":{"orient":"right","values":[20,30,40,50,60,70,80,90],"labels":false,"title":null}},"detail":{"field":"s"},"order":{"value":null}}},
{"data":{"name":"textL"},"mark":{"type":"text","font":"DejaVu Sans","fontSize":22,"color":"#111111"},"encoding":{"x":{"field":"lon","type":"quantitative","axis":null},"y":{"field":"lat","type":"quantitative","axis":null},"text":{"field":"label"},"angle":{"field":"rot","type":"quantitative","scale":null}}}
]},
{"width":23,"height":398,"view":{"stroke":null},"data":{"name":"none"},"mark":{"type":"rect"},"encoding":{}},
{"width":17,"height":398,"data":{"name":"barL"},"mark":{"type":"rect","strokeWidth":0.7},"encoding":{"y":{"field":"lo","type":"quantitative","scale":{"domain":[0,300],"nice":false,"zero":false},"axis":{"orient":"right","values":[0,50,100,150,200,250,300],"title":"MLD (m)","titleAngle":270,"labelPadding":15,"titlePadding":39}},"y2":{"field":"hi"},"color":{"field":"lo","type":"nominal","legend":null,"scale":{"domain":[0,15,30,45,60,75,90,105,120,135,150,165,180,195,210,225,240,255,270,285],"range":["#fafac0","#dff3b5","#b8e8a8","#8edea0","#58d09a","#0cc79a","#0cbb9a","#05a89a","#0399a0","#06869a","#077d9a","#0c6b95","#17609c","#245398","#2d4a9a","#3a3c84","#3a3278","#382a64","#2f2345","#2a1535"]}}}},
{"width":116,"height":398,"view":{"stroke":null},"data":{"name":"none"},"mark":{"type":"rect"},"encoding":{}},
{"width":329,"height":398,"title":{"text":"ridge-noridge","offset":2},"resolve":{"axis":{"x":"independent","y":"independent"}},"layer":[
{"data":{"name":"fillR"},"mark":{"type":"line","filled":true,"interpolate":"linear"},"encoding":{"x":{"field":"lon","type":"quantitative","scale":{"domain":[80,190],"nice":false,"zero":false},"axis":{"values":[80,100,120,140,160,180],"title":"Longitude","labelPadding":15,"titlePadding":11}},"y":{"field":"lat","type":"quantitative","scale":{"domain":[20,90],"nice":false,"zero":false},"axis":{"values":[20,30,40,50,60,70,80,90],"labels":false,"title":null}},"color":{"field":"v","type":"nominal","legend":null,"scale":{"domain":[80,40,0,-40,-80,-120,-160,-200],"range":["#ee7f52","#f0b7a5","#f0ebe9","#94c0cb","#1a9cbb","#0a70c0","#1a35a0","#0a1550"]}},"detail":{"field":"z"},"order":{"value":null}}},
{"data":{"name":"lineR"},"mark":{"type":"line","stroke":"#0a0a0a","strokeWidth":2.6,"strokeJoin":"round","strokeCap":"round"},"encoding":{"x":{"field":"lon","type":"quantitative","axis":{"orient":"top","values":[80,100,120,140,160,180],"labels":false,"title":null}},"y":{"field":"lat","type":"quantitative","axis":{"orient":"right","values":[20,30,40,50,60,70,80,90],"labels":false,"title":null}},"detail":{"field":"s"},"order":{"value":null}}},
{"data":{"name":"textR"},"mark":{"type":"text","font":"DejaVu Sans","fontSize":22,"color":"#111111"},"encoding":{"x":{"field":"lon","type":"quantitative","axis":null},"y":{"field":"lat","type":"quantitative","axis":null},"text":{"field":"label"},"angle":{"field":"rot","type":"quantitative","scale":null}}}
]},
{"width":23,"height":398,"view":{"stroke":null},"data":{"name":"none"},"mark":{"type":"rect"},"encoding":{}},
{"width":17,"height":398,"data":{"name":"barR"},"mark":{"type":"rect","strokeWidth":0.8},"encoding":{"y":{"field":"lo","type":"quantitative","scale":{"domain":[-200,200],"nice":false,"zero":false},"axis":{"orient":"right","values":[-200,-100,0,100,200],"labelExpr":"replace(datum.label,'\u2212','-')","title":"MLD anomaly (m)","titleAngle":270,"labelPadding":15,"titlePadding":36}},"y2":{"field":"hi"},"color":{"field":"mid","type":"quantitative","legend":null,"scale":{"type":"linear","domain":[-200,-190,-168,-145,-125,-100,-50,-25,0,25,50,75,100,125,150,175,200],"range":["#151a45","#161a50","#1a2a80","#1540b0","#0a60c0","#0e8fb0","#7eb0c0","#c0d5da","#f0ecea","#e8c4b8","#e8a088","#e57a5a","#d9522f","#c22a20","#aa0a2c","#7a0a28","#3a0515"]}},"stroke":{"field":"mid","type":"quantitative","legend":null,"scale":{"type":"linear","domain":[-200,-190,-168,-145,-125,-100,-50,-25,0,25,50,75,100,125,150,175,200],"range":["#151a45","#161a50","#1a2a80","#1540b0","#0a60c0","#0e8fb0","#7eb0c0","#c0d5da","#f0ecea","#e8c4b8","#e8a088","#e57a5a","#d9522f","#c22a20","#aa0a2c","#7a0a28","#3a0515"]}}}}
]}
